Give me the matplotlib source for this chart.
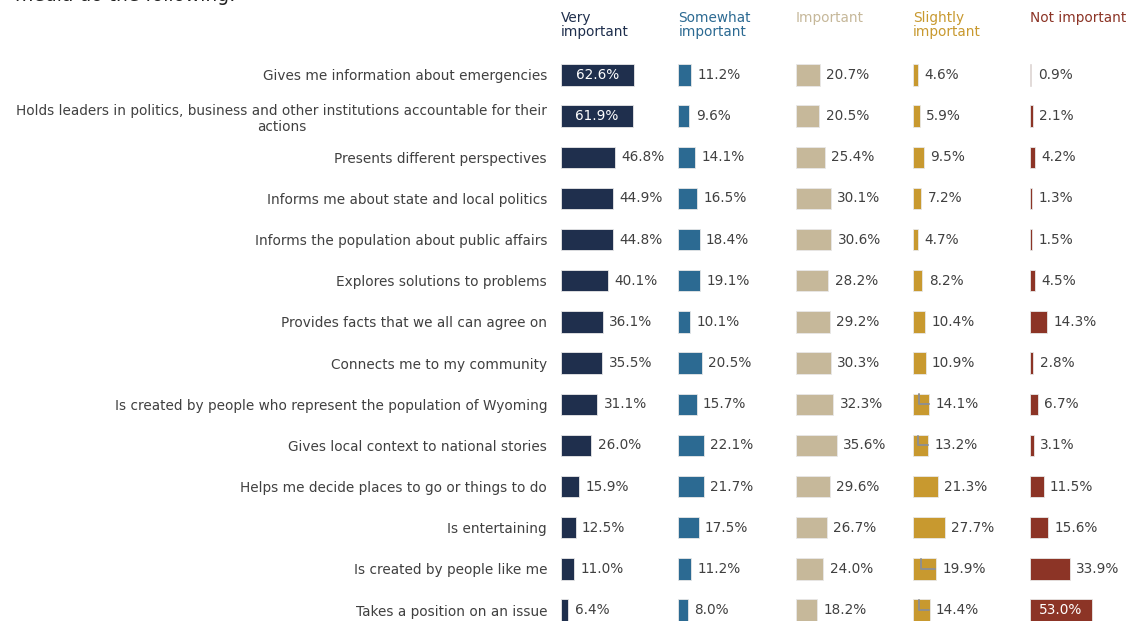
import matplotlib.pyplot as plt

statements = [
    'Gives me information about emergencies',
    'Holds leaders in politics, business and other institutions accountable for their\nactions',
    'Presents different perspectives',
    'Informs me about state and local politics',
    'Informs the population about public affairs',
    'Explores solutions to problems',
    'Provides facts that we all can agree on',
    'Connects me to my community',
    'Is created by people who represent the population of Wyoming',
    'Gives local context to national stories',
    'Helps me decide places to go or things to do',
    'Is entertaining',
    'Is created by people like me',
    'Takes a position on an issue',
]

levels = ['Very\nimportant', 'Somewhat\nimportant', 'Important', 'Slightly\nimportant', 'Not important']
colors = ['#1f2f4d', '#2c6a92', '#c6b89a', '#c8992f', '#8c3426']

very = [62.6, 61.9, 46.8, 44.9, 44.8, 40.1, 36.1, 35.5, 31.1, 26.0, 15.9, 12.5, 11.0, 6.4]
somewhat = [11.2, 9.6, 14.1, 16.5, 18.4, 19.1, 10.1, 20.5, 15.7, 22.1, 21.7, 17.5, 11.2, 8.0]
important = [20.7, 20.5, 25.4, 30.1, 30.6, 28.2, 29.2, 30.3, 32.3, 35.6, 29.6, 26.7, 24.0, 18.2]
slightly = [4.6, 5.9, 9.5, 7.2, 4.7, 8.2, 10.4, 10.9, 14.1, 13.2, 21.3, 27.7, 19.9, 14.4]
not_imp = [0.9, 2.1, 4.2, 1.3, 1.5, 4.5, 14.3, 2.8, 6.7, 3.1, 11.5, 15.6, 33.9, 53.0]
series = [very, somewhat, important, slightly, not_imp]

# labels that sit inside their bar, and labels pulled out with a leader line
inside = {(0, 0), (0, 1), (4, 13)}
leader = {(3, 8), (3, 9), (3, 12), (3, 13)}

plt.rcParams['font.family'] = ['DejaVu Sans']
text_color = '#404040'
fs = 9.8

W, H = 1128, 621
fig = plt.figure(figsize=(W / 100, H / 100), dpi=100)

panel_w = 117.3
top_px, bottom_px = 54.4, 630.6
rows = list(range(len(statements)))

for i, (vals, col) in enumerate(zip(series, colors)):
    left_px = 561 + i * panel_w
    ax = fig.add_axes([left_px / W, 1 - bottom_px / H, panel_w / W, (bottom_px - top_px) / H])
    ax.barh(rows, vals, height=0.52, color=col, edgecolor='#e8e8e8', linewidth=0.6)
    ax.set_xlim(0, 101)
    ax.set_ylim(len(statements) - 0.5, -0.5)
    for s in ax.spines.values():
        s.set_visible(False)
    ax.set_xticks([])
    if i == 0:
        ax.set_yticks(rows)
        ax.set_yticklabels(statements, fontsize=fs, color=text_color,
                           ha='right', multialignment='center')
        ax.tick_params(axis='y', length=0, pad=10)
    else:
        ax.set_yticks([])

    for r, v in enumerate(vals):
        lab = f'{v:.1f}%'
        if (i, r) in inside:
            ax.text(v / 2, r, lab, ha='center', va='center', fontsize=fs,
                    color='white')
        elif (i, r) in leader:
            ax.annotate(lab, xy=(v * 0.35, r - 0.24), xytext=(v + 5.5, r),
                        ha='left', va='center', fontsize=fs, color=text_color,
                        arrowprops=dict(arrowstyle='-', color='#8f8f8f', lw=1.4,
                                        connectionstyle='angle,angleA=0,angleB=90,rad=0',
                                        shrinkA=3, shrinkB=0))
        else:
            ax.text(v + 5.5, r, lab, ha='left', va='center', fontsize=fs, color=text_color)

    fig.text(left_px / W, 1 - 11 / H, levels[i], ha='left', va='top',
             fontsize=fs, color=col, linespacing=1.0)

# tail of the question text above the chart
fig.text(15 / W, 1 - 1 / H, 'media do the following:', ha='left', va='baseline',
         fontsize=13.5, color='#222222')

fig.savefig('out.png', dpi=100)
